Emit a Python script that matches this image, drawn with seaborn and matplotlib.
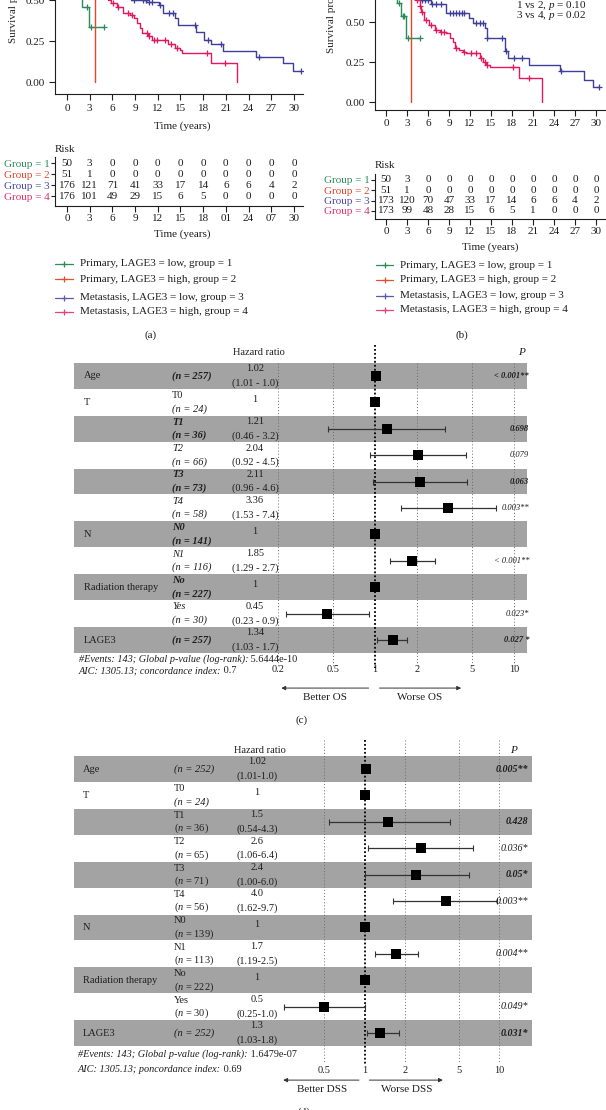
"""
Survival curves (KM + risk tables) and Cox forest plots for LAGE3.
"""

import matplotlib
matplotlib.use("Agg")
import matplotlib.pyplot as plt
import matplotlib.transforms as mtransforms
from matplotlib.ticker import NullLocator
import numpy as np
import seaborn as sns

W, H = 606, 1110

# ---------------------------------------------------------------
# Kaplan-Meier curves (time in years, survival probability)
# ---------------------------------------------------------------
a_t1 = [0, 0.5, 1.0, 1.5, 2.0, 2.95, 4.9]
a_s1 = [1, 0.88, 0.72, 0.56, 0.457, 0.333, 0.333]
a_c1 = [2.7, 3.2, 4.9]

a_t2 = [0, 0.6, 1.2, 2.0, 2.6, 3.7]
a_s2 = [1, 0.9, 0.8, 0.7, 0.62, 0.0]
a_c2 = []

a_t3 = [0, 1, 2, 3, 4, 5, 6, 7, 8, 8.5, 10.5, 12.2, 12.7, 14.3, 14.7, 17.1,
        18.1, 19.0, 20.6, 25.05, 28.5, 29.9, 31.0]
a_s3 = [1, 0.95, 0.88, 0.8, 0.73, 0.66, 0.6, 0.56, 0.52, 0.5, 0.49, 0.47,
        0.42, 0.388, 0.346, 0.307, 0.256, 0.23, 0.189, 0.155, 0.114, 0.069, 0.069]
a_c3 = [8.9, 10.0, 10.4, 10.8, 11.2, 12.3, 13.5, 14.0, 16.9, 18.7, 20.3, 25.4, 31.0]

a_t4 = [0, 0.5, 1, 1.5, 2, 2.5, 3, 3.5, 4, 4.5, 5, 5.4, 5.8, 6.6, 7.4, 8.3,
        8.8, 9.2, 9.6, 9.9, 10.7, 11.2, 13.4, 14.3, 14.9, 15.2, 19.1, 22.5]
a_s4 = [1, 0.97, 0.93, 0.89, 0.85, 0.8, 0.75, 0.7, 0.65, 0.6, 0.55, 0.5, 0.48,
        0.46, 0.42, 0.41, 0.39, 0.36, 0.33, 0.30, 0.28, 0.256, 0.235, 0.21,
        0.195, 0.18, 0.114, 0.0]
a_c4 = [6.1, 6.8, 8.1, 8.6, 10.6, 10.9, 11.5, 11.9, 13.0, 13.7, 14.5, 18.5, 20.9]

b_t1 = [0, 0.6, 1.2, 1.6, 2.1, 2.9, 4.8]
b_s1 = [1, 0.86, 0.74, 0.62, 0.54, 0.4, 0.4]
b_c1 = [1.9, 2.4, 2.6, 3.1, 4.8]

b_t2 = [0, 0.6, 1.2, 2.0, 2.8, 3.6]
b_s2 = [1, 0.9, 0.8, 0.72, 0.66, 0.0]
b_c2 = []

b_t3 = [0, 1, 2, 3, 4, 5, 6.5, 8.6, 11.9, 12.4, 14.2, 14.4, 17.0, 17.4, 20.5,
        24.8, 28.3, 29.6, 30.5]
b_s3 = [1, 0.94, 0.87, 0.79, 0.71, 0.64, 0.61, 0.554, 0.523, 0.495, 0.46, 0.40,
        0.32, 0.273, 0.23, 0.194, 0.14, 0.096, 0.096]
b_c3 = [5.2, 5.6, 6.0, 6.6, 7.2, 7.8, 9.1, 9.6, 10.0, 10.4, 10.8, 11.2, 12.9,
        13.5, 13.9, 14.5, 16.6, 17.1, 18.3, 19.5, 25.0, 30.5]

b_t4 = [0, 0.5, 1, 1.5, 2, 2.5, 3, 3.5, 4.0, 4.3, 4.8, 5.0, 5.5, 6.2, 6.95,
        7.7, 8.6, 9.1, 9.6, 9.8, 10.5, 11.0, 11.5, 13.4, 13.9, 14.3, 14.8,
        18.95, 22.3]
b_s4 = [1, 0.97, 0.94, 0.91, 0.87, 0.83, 0.78, 0.73, 0.68, 0.64, 0.6, 0.56,
        0.51, 0.48, 0.45, 0.44, 0.43, 0.40, 0.375, 0.335, 0.325, 0.315, 0.304,
        0.273, 0.25, 0.23, 0.22, 0.148, 0.0]
b_c4 = [4.5, 4.9, 5.2, 5.7, 6.5, 7.2, 7.9, 8.3, 10.0, 11.2, 12.2, 12.8, 13.6,
        14.1, 14.5, 18.1, 20.5]

# ---------------------------------------------------------------
# Numbers at risk
# ---------------------------------------------------------------
risk_times = [0, 3, 6, 9, 12, 15, 18, 21, 24, 27, 30]
a_time_labels = ["0", "3", "6", "9", "12", "15", "18", "01", "24", "07", "30"]
b_time_labels = ["0", "3", "6", "9", "12", "15", "18", "21", "24", "27", "30"]
group_labels = ["Group = 1", "Group = 2", "Group = 3", "Group = 4"]

a_risk = [
    [50, 3, 0, 0, 0, 0, 0, 0, 0, 0, 0],
    [51, 1, 0, 0, 0, 0, 0, 0, 0, 0, 0],
    [176, 121, 71, 41, 33, 17, 14, 6, 6, 4, 2],
    [176, 101, 49, 29, 15, 6, 5, 0, 0, 0, 0],
]
b_risk = [
    [50, 3, 0, 0, 0, 0, 0, 0, 0, 0, 0],
    [51, 1, 0, 0, 0, 0, 0, 0, 0, 0, 0],
    [173, 120, 70, 47, 33, 17, 14, 6, 6, 4, 2],
    [173, 99, 48, 28, 15, 6, 5, 1, 0, 0, 0],
]

legend_labels = [
    "Primary, LAGE3 = low, group = 1",
    "Primary, LAGE3 = high, group = 2",
    "Metastasis, LAGE3 = low, group = 3",
    "Metastasis, LAGE3 = high, group = 4",
]

# ---------------------------------------------------------------
# Forest plots (Cox model)
# ---------------------------------------------------------------
fp_names = ["Age", "T", "", "", "", "", "N", "", "Radiation therapy", "", "LAGE3"]
fp_levels = ["", "T0", "T1", "T2", "T3", "T4", "N0", "N1", "No", "Yes", ""]

c_n = [257, 24, 36, 66, 73, 58, 141, 116, 227, 30, 257]
c_hr = [1.02, 1, 1.21, 2.04, 2.11, 3.36, 1, 1.85, 1, 0.45, 1.34]
c_lo = [1.01, np.nan, 0.46, 0.92, 0.96, 1.53, np.nan, 1.29, np.nan, 0.23, 1.03]
c_hi = [1.03, np.nan, 3.2, 4.5, 4.6, 7.4, np.nan, 2.7, np.nan, 0.9, 1.7]
c_hr_txt = ["1.02", "1", "1.21", "2.04", "2.11", "3.36", "1", "1.85", "1", "0.45", "1.34"]
c_ci_txt = ["(1.01 - 1.0)", "", "(0.46 - 3.2)", "(0.92 - 4.5)", "(0.96 - 4.6)",
            "(1.53 - 7.4)", "", "(1.29 - 2.7)", "", "(0.23 - 0.9)", "(1.03 - 1.7)"]
c_p = ["< 0.001**", "", "0.698", "0.079", "0.063", "0.003**", "",
       "< 0.001**", "", "0.023*", "0.027 *"]
c_notes = [
    [("#Events: 143; Global p-value (log-rank):", "italic"), (" 5.6444e-10", "normal")],
    [("AIC: 1305.13; concordance index:", "italic"), (" 0.7", "normal")],
]

d_n = [252, 24, 36, 65, 71, 56, 139, 113, 222, 30, 252]
d_hr = [1.02, 1, 1.5, 2.6, 2.4, 4.0, 1, 1.7, 1, 0.5, 1.3]
d_lo = [1.01, np.nan, 0.54, 1.06, 1.00, 1.62, np.nan, 1.19, np.nan, 0.25, 1.03]
d_hi = [1.03, np.nan, 4.3, 6.4, 6.0, 9.7, np.nan, 2.5, np.nan, 1.0, 1.8]
d_hr_txt = ["1.02", "1", "1.5", "2.6", "2.4", "4.0", "1", "1.7", "1", "0.5", "1.3"]
d_ci_txt = ["(1.01-1.0)", "", "(0.54-4.3)", "(1.06-6.4)", "(1.00-6.0)", "(1.62-9.7)",
            "", "(1.19-2.5)", "", "(0.25-1.0)", "(1.03-1.8)"]
d_p = ["0.005**", "", "0.428", "0.036*", "0.05*", "0.003**", "", "0.004**", "",
       "0.049*", "0.031*"]
d_notes = [
    [("#Events: 143; Global p-value (log-rank):", "italic"), (" 1.6479e-07", "normal")],
    [("AIC: 1305.13; poncordance index:", "italic"), (" 0.69", "normal")],
]

KM_COLORS = ["#2b8a5a", "#e5472d", "#3f3f9a", "#e3195c"]
LABEL_COLORS = ["#2b8a57", "#e0452a", "#4848a0", "#e0306a"]
LEGEND_COLORS = ["#2e8b57", "#e0502f", "#5b5bab", "#e8407a"]
GREY = "#a3a3a3"
INK = "#1e1e1e"

sns.set_style("ticks")
plt.rcParams["font.family"] = ["Liberation Serif", "DejaVu Serif"]
plt.rcParams["mathtext.fontset"] = "custom"
plt.rcParams["mathtext.rm"] = "Liberation Serif"
plt.rcParams["mathtext.it"] = "Liberation Serif:italic"
plt.rcParams["text.color"] = INK
plt.rcParams["axes.edgecolor"] = INK
plt.rcParams["xtick.color"] = INK
plt.rcParams["ytick.color"] = INK

fig = plt.figure(figsize=(W / 100, H / 100), dpi=100)


def px_axes(x0, y0, x1, y1):
    """Axes placed with pixel coordinates (origin top-left)."""
    return fig.add_axes([x0 / W, 1 - y1 / H, (x1 - x0) / W, (y1 - y0) / H])


def km_panel(ax, curves, xlim, ylim, label_xy):
    for (t, s, cens), col in zip(curves, KM_COLORS):
        t = np.asarray(t, float)
        s = np.asarray(s, float)
        sns.lineplot(x=t, y=s, drawstyle="steps-post", estimator=None, sort=False,
                     color=col, lw=1.0, ax=ax)
        if len(cens):
            cens = np.asarray(cens, float)
            cs = s[np.searchsorted(t, cens, side="right") - 1]
            sns.scatterplot(x=cens, y=cs, marker="+", s=22, color=col,
                            linewidth=0.9, ax=ax, legend=False, zorder=3)
    ax.set_xlim(xlim)
    ax.set_ylim(ylim)
    ax.set_xticks(risk_times)
    ax.set_yticks([0, 0.25, 0.5, 0.75, 1.0])
    ax.set_yticklabels(["0.00", "0.25", "0.50", "0.75", "1.00"])
    sns.despine(ax=ax)
    for sp in ax.spines.values():
        sp.set_linewidth(0.8)
    ax.tick_params(length=4, width=0.8, labelsize=8, pad=3)
    ax.set_xlabel("")
    ax.set_ylabel("Survival probability", fontsize=8)
    ax.yaxis.set_label_coords(*label_xy)
    ax.set_facecolor("none")


def risk_panel(ax, risk, xlim, ylim, tick_labels):
    for r, row in enumerate(risk):
        for t, v in zip(risk_times, row):
            ax.text(t, r, str(v), ha="center", va="center", fontsize=8)
    ax.set_xlim(xlim)
    ax.set_ylim(ylim)
    ax.set_xticks(risk_times)
    ax.set_xticklabels(tick_labels)
    ax.set_yticks(range(len(group_labels)))
    ax.set_yticklabels(group_labels)
    for lab, col in zip(ax.get_yticklabels(), LABEL_COLORS):
        lab.set_color(col)
    sns.despine(ax=ax)
    for sp in ax.spines.values():
        sp.set_linewidth(0.8)
    ax.tick_params(axis="x", length=4, width=0.8, labelsize=8, pad=2)
    ax.tick_params(axis="y", length=3, width=0.8, labelsize=8, pad=1)
    ax.set_facecolor("none")


def mixed_line(ax, x, y, parts, transform, size):
    txt = ax.text(x, y, parts[0][0], transform=transform, fontsize=size,
                  fontstyle=parts[0][1], ha="left", va="center")
    for s, style in parts[1:]:
        txt = ax.annotate(s, xy=(1, 0), xycoords=txt, fontsize=size, fontstyle=style,
                          ha="left", va="bottom", annotation_clip=False)


def forest_panel(ax, n_vals, hr, lo, hi, hr_txt, ci_txt, p_txt, notes, lay):
    x0, x1 = lay["x0"], lay["x1"]

    def fx(px):
        return (px - x0) / (x1 - x0)

    tr = mtransforms.blended_transform_factory(ax.transAxes, ax.transData)
    hr = np.asarray(hr, float)
    lo = np.asarray(lo, float)
    hi = np.asarray(hi, float)
    rows = np.arange(len(hr))
    fs = 7.5

    ax.set_xscale("log")
    ax.set_xlim(lay["xlim"])
    ax.set_ylim(lay["ylim"])
    for sp in ax.spines.values():
        sp.set_visible(False)
    ax.set_yticks([])
    ax.set_xticks(lay["ticks"])
    ax.set_xticklabels([f"{t:g}" for t in lay["ticks"]])
    ax.xaxis.set_minor_locator(NullLocator())
    ax.tick_params(axis="x", length=0, pad=lay["tick_pad"], labelsize=fs)
    ax.set_facecolor("none")

    for i in rows[::2]:
        ax.axhspan(i - 0.49, i + 0.49, color=GREY, lw=0, zorder=0)
    ax.vlines(lay["grid"], lay["grid_top"], lay["ylim"][0], colors="#6a6a6a",
              linestyles=(0, (1, 2.2)), lw=0.7, zorder=1)
    ax.vlines(1, lay["ylim"][1], lay["ylim"][0], colors="black",
              linestyles=(0, (1, 1.2)), lw=1.3, zorder=2)

    mask = ~np.isnan(lo)
    ax.errorbar(hr[mask], rows[mask], xerr=[hr[mask] - lo[mask], hi[mask] - hr[mask]],
                fmt="none", ecolor="#333333", elinewidth=0.9, capsize=2.5,
                capthick=0.8, zorder=3)
    sns.scatterplot(x=hr, y=rows, marker="s", s=lay["sq"], color="black",
                    edgecolor="black", linewidth=0, ax=ax, legend=False, zorder=4)
    ax.set_xlabel("")
    ax.set_ylabel("")

    head = lay["head_row"]
    ax.text(fx(lay["head_px"]), head, "Hazard ratio", transform=tr, ha="center",
            va="center", fontsize=fs)
    ax.text(fx(lay["phead_px"]), head, "P", transform=tr, ha="center",
            va="center", fontsize=fs + 0.6, fontstyle="italic")

    for i in rows:
        band = i % 2 == 0
        lev_weight = "bold" if (band and lay["bold_band"]) else "normal"
        if fp_names[i]:
            ax.text(fx(lay["name_px"]), i, fp_names[i], transform=tr, ha="left",
                    va="center", fontsize=fs)
        if i in lay["n_italic"]:
            n_lab = f"(n = {n_vals[i]})"
            n_style = "italic"
        else:
            n_lab = f"($n$ = {n_vals[i]})"
            n_style = "normal"
        if fp_levels[i]:
            lev_style = lay["level_style"](fp_levels[i])
            ax.text(fx(lay["lev_px"]), i - 0.25, fp_levels[i], transform=tr, ha="left",
                    va="center", fontsize=fs, fontstyle=lev_style, fontweight=lev_weight)
            ax.text(fx(lay["lev_px"]), i + 0.25, n_lab, transform=tr, ha="left",
                    va="center", fontsize=fs, fontstyle=n_style, fontweight=lev_weight)
        else:
            ax.text(fx(lay["lev_px"]), i, n_lab, transform=tr, ha="left",
                    va="center", fontsize=fs, fontstyle=n_style, fontweight=lev_weight)
        if ci_txt[i]:
            ax.text(fx(lay["hr_px"]), i - 0.27, hr_txt[i], transform=tr, ha="center",
                    va="center", fontsize=fs)
            ax.text(fx(lay["hr_px"]), i + 0.27, ci_txt[i], transform=tr, ha="center",
                    va="center", fontsize=fs)
        else:
            ax.text(fx(lay["hr_px"]), i - 0.12, hr_txt[i], transform=tr, ha="center",
                    va="center", fontsize=fs)
        if p_txt[i]:
            ax.text(fx(lay["p_px"]), i, p_txt[i], transform=tr, ha="right", va="center",
                    fontsize=lay["p_size"], fontstyle="italic",
                    fontweight="bold" if band else "normal")

    for k, parts in enumerate(notes):
        mixed_line(ax, fx(lay["note_px"]), lay["note_rows"][k], parts, tr, fs - 0.1)

    ar_y = lay["arrow_row"]
    arrow = dict(arrowstyle="-|>", lw=0.7, color="#333333", mutation_scale=6)
    ax.annotate("", xy=(lay["arrow_l"][1], ar_y), xytext=(lay["arrow_l"][0], ar_y),
                arrowprops=arrow, annotation_clip=False)
    ax.annotate("", xy=(lay["arrow_r"][1], ar_y), xytext=(lay["arrow_r"][0], ar_y),
                arrowprops=arrow, annotation_clip=False)
    ax.text(lay["better"][0], lay["better"][1], lay["better"][2], ha="center",
            va="center", fontsize=8, clip_on=False)
    ax.text(lay["worse"][0], lay["worse"][1], lay["worse"][2], ha="center",
            va="center", fontsize=8, clip_on=False)


# ---- (a) KM + risk table ----
ax_a = px_axes(55, -90, 303, 94)
km_panel(ax_a, [(a_t1, a_s1, a_c1), (a_t2, a_s2, a_c2), (a_t3, a_s3, a_c3),
                (a_t4, a_s4, a_c4)], (-1.59, 31.2), (-0.073, 1.05), (-0.149, 0.52))
ax_ar = px_axes(55, 157, 303, 206)
risk_panel(ax_ar, a_risk, (-1.59, 31.2), (3.9, -0.55), a_time_labels)

# ---- (b) KM + risk table ----
ax_b = px_axes(375, -62, 606, 110)
km_panel(ax_b, [(b_t1, b_s1, b_c1), (b_t2, b_s2, b_c2), (b_t3, b_s3, b_c3),
                (b_t4, b_s4, b_c4)], (-1.57, 31.43), (-0.05, 1.025), (-0.169, 0.593))
ax_b.tick_params(axis="x", pad=2.5)
ax_br = px_axes(375, 174, 606, 219)
risk_panel(ax_br, b_risk, (-1.57, 31.43), (3.79, -0.58), b_time_labels)

# ---- (c) forest OS ----
ax_c = px_axes(73.5, 345, 527, 668)
forest_panel(ax_c, c_n, c_hr, c_lo, c_hi, c_hr_txt, c_ci_txt, c_p, c_notes, dict(
    x0=73.5, x1=527, xlim=(0.00685, 12.34), ylim=(11.06, -1.17), tick_pad=-2,
    ticks=[0.2, 0.5, 1, 2, 5, 10], grid=[0.2, 0.5, 2, 5, 10], grid_top=-0.5,
    sq=42, head_row=-0.87, name_px=84, lev_px=172, hr_px=255, head_px=259,
    phead_px=521, p_px=529, p_size=6.1, n_italic=set(range(11)), bold_band=True,
    level_style=lambda s: "normal" if s == "T0" else "italic",
    note_px=79, note_rows=[10.72, 11.16], arrow_row=11.82,
    arrow_l=(0.942, 0.203), arrow_r=(1.03, 4.35),
    better=(0.437, 12.16, "Better OS"), worse=(2.09, 12.16, "Worse OS"),
))

# ---- (d) forest DSS ----
ax_d = px_axes(73.5, 740, 532, 1064)
forest_panel(ax_d, d_n, d_hr, d_lo, d_hi, d_hr_txt, d_ci_txt, d_p, d_notes, dict(
    x0=73.5, x1=532, xlim=(0.00675, 17.6), ylim=(11.17, -1.10), tick_pad=1.5,
    ticks=[0.5, 1, 2, 5, 10], grid=[0.5, 2, 5, 10], grid_top=-1.10,
    sq=42, head_row=-0.72, name_px=83, lev_px=174, hr_px=257, head_px=260,
    phead_px=514, p_px=528, p_size=7.2, n_italic={0, 1, 10}, bold_band=False,
    level_style=lambda s: "normal",
    note_px=78, note_rows=[10.8, 11.36], arrow_row=11.78,
    arrow_l=(0.948, 0.235), arrow_r=(1.03, 4.0),
    better=(0.48, 12.12, "Better DSS"), worse=(2.04, 12.12, "Worse DSS"),
))

# ---- free text in pixel coordinates ----
ax_px = fig.add_axes([0, 0, 1, 1])
ax_px.set_xlim(0, W)
ax_px.set_ylim(H, 0)
ax_px.axis("off")
ax_px.patch.set_visible(False)

ax_px.text(182, 126, "Time (years)", ha="center", va="center", fontsize=8)
ax_px.text(182, 234, "Time (years)", ha="center", va="center", fontsize=8)
ax_px.text(490, 247, "Time (years)", ha="center", va="center", fontsize=8)
ax_px.text(55, 149, "Risk", ha="left", va="center", fontsize=8)
ax_px.text(375, 165, "Risk", ha="left", va="center", fontsize=8)
ax_px.text(516, 5, r"1 vs 2, $p$ = 0.10", ha="left", va="center", fontsize=8)
ax_px.text(516, 16, r"3 vs 4, $p$ = 0.02", ha="left", va="center", fontsize=8)

for (lx0, lx1, tx, ys) in [(55, 73, 80, [264, 279, 298, 312]),
                           (376, 393, 400, [265, 280, 296, 310])]:
    for lab, col, y in zip(legend_labels, LEGEND_COLORS, ys):
        ax_px.plot([lx0, lx1], [y, y], color=col, lw=0.9)
        ax_px.plot([(lx0 + lx1) / 2], [y], marker="+", color=col, ms=4.5, mew=0.9)
        ax_px.text(tx, y, lab, ha="left", va="center", fontsize=8)

ax_px.text(151, 335, "(a)", ha="center", va="center", fontsize=8)
ax_px.text(462, 335, "(b)", ha="center", va="center", fontsize=8)
ax_px.text(302, 720, "(c)", ha="center", va="center", fontsize=8)
ax_px.text(304, 1112, "(d)", ha="center", va="center", fontsize=8)

fig.savefig("out.png", dpi=100)
plt.close(fig)
